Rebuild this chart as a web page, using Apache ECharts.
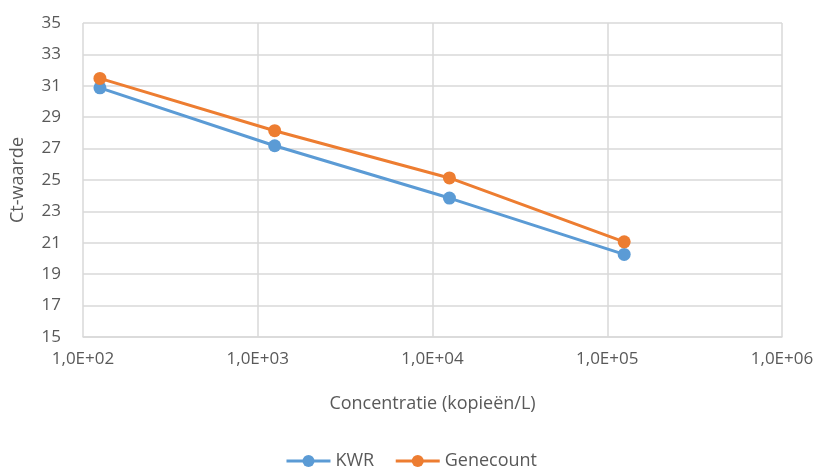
<!DOCTYPE html>
<html>
<head>
<meta charset="utf-8">
<script src="https://cdn.jsdelivr.net/npm/echarts@6/dist/echarts.min.js"></script>
<style>
  html, body { margin: 0; padding: 0; background: #fff; }
  #chart { width: 822px; height: 473px; }
</style>
</head>
<body>
<div id="chart"></div>
<script>
// concentraties (kopieën/L)
var concentraties = [125, 1250, 12500, 125000];
var kwr = [30.87, 27.18, 23.85, 20.26];
var genecount = [31.47, 28.14, 25.13, 21.06];

var myChart = echarts.init(document.getElementById("chart"));
var font = '"Open Sans", Lato, sans-serif';
var grijs = '#595959';

function paren(xs, ys) {
    return xs.map(function (x, i) { return [x, ys[i]]; });
}

var option = {
    animation: false,
    textStyle: { fontFamily: font },
    grid: { left: 83, right: 40, top: 23, bottom: 136 },
    legend: {
        bottom: -2,
        left: 'center',
        itemWidth: 44,
        itemHeight: 15,
        itemGap: 20,
        lineStyle: { width: 3 },
        textStyle: { fontSize: 18, color: grijs, fontFamily: font },
        data: ['KWR', 'Genecount']
    },
    xAxis: {
        type: 'log',
        logBase: 10,
        min: 100,
        max: 1000000,
        name: 'Concentratie (kopieën/L)',
        nameLocation: 'middle',
        nameGap: 58,
        nameTextStyle: { fontSize: 18, color: grijs },
        axisLine: { lineStyle: { color: '#d9d9d9', width: 1.5 } },
        axisTick: { show: false },
        axisLabel: {
            fontSize: 17,
            color: grijs,
            margin: 14,
            formatter: function (v) {
                var e = Math.round(Math.log10(v));
                return '1,0E+' + (e < 10 ? '0' : '') + e;
            }
        },
        splitLine: { show: true, lineStyle: { color: '#d9d9d9', width: 1.5 } }
    },
    yAxis: {
        type: 'value',
        min: 15,
        max: 35,
        interval: 2,
        name: 'Ct-waarde',
        nameLocation: 'middle',
        nameGap: 56,
        nameRotate: 90,
        nameTextStyle: { fontSize: 18, color: grijs },
        axisLine: { show: false },
        axisTick: { show: false },
        axisLabel: { fontSize: 17, color: grijs, margin: 22 },
        splitLine: { lineStyle: { color: '#d9d9d9', width: 1.5 } }
    },
    series: [{
        name: 'KWR',
        type: 'line',
        symbol: 'circle',
        symbolSize: 13,
        lineStyle: { width: 3, color: '#5B9BD5' },
        itemStyle: { color: '#5B9BD5' },
        data: paren(concentraties, kwr)
    }, {
        name: 'Genecount',
        type: 'line',
        symbol: 'circle',
        symbolSize: 13,
        lineStyle: { width: 3, color: '#ED7D31' },
        itemStyle: { color: '#ED7D31' },
        data: paren(concentraties, genecount)
    }]
};

myChart.setOption(option);
window.addEventListener("resize", function () {
    myChart.resize();
});
</script>
</body>
</html>
